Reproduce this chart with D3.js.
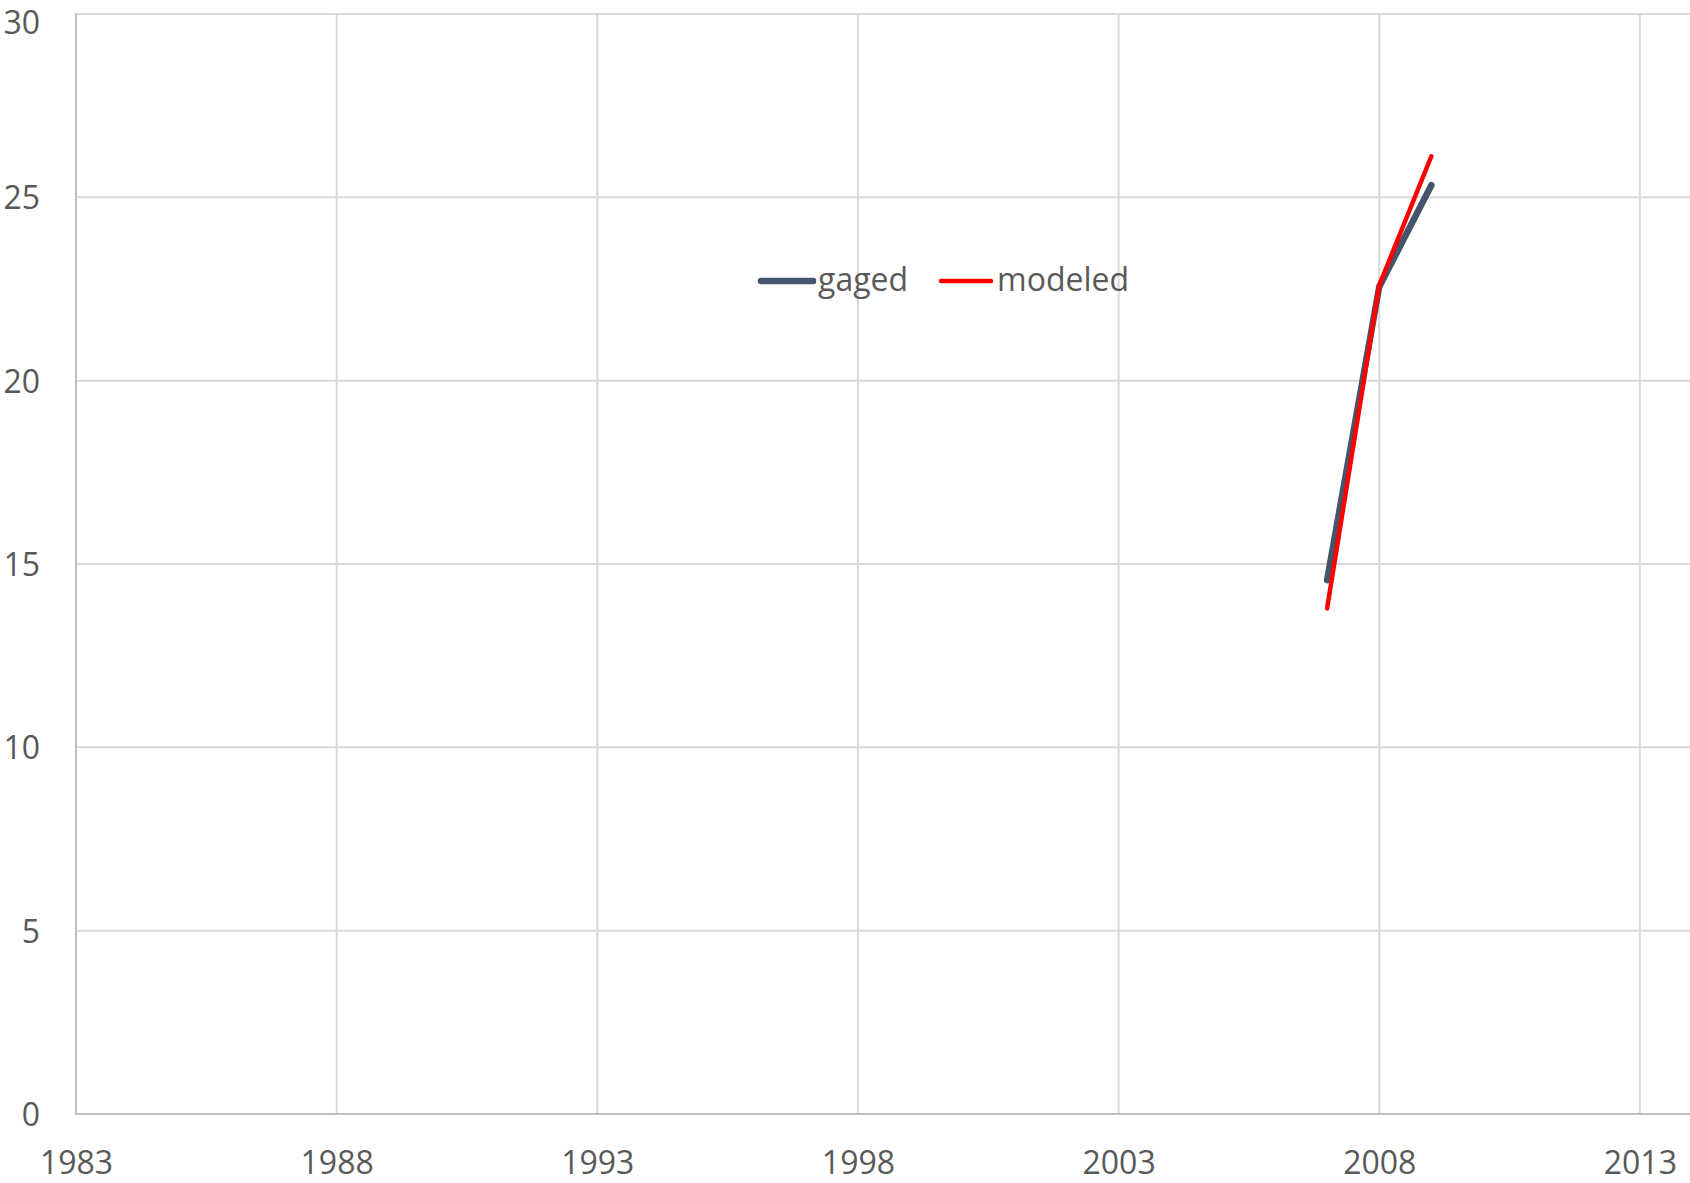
<!DOCTYPE html>
<html><head><meta charset="utf-8">
<script src="https://cdn.jsdelivr.net/npm/d3@7"></script>
<style>
html,body{margin:0;padding:0;background:#fff;}
svg{display:block;}
text{font-family:"Open Sans",sans-serif;}
</style></head>
<body>
<svg id="chart" width="1690" height="1183"></svg>
<script>
const years = [2007, 2008, 2009];
const gaged = [14.56, 22.56, 25.33];
const modeled = [13.79, 22.6, 26.12];
const xTicks = [1983, 1988, 1993, 1998, 2003, 2008, 2013];
const yTicks = [0, 5, 10, 15, 20, 25, 30];
const seriesNames = ["gaged", "modeled"];
const seriesColors = ["#44546a", "#ff0000"];

const svg = d3.select("#chart");
const pL = 76, pT = 14, pB = 1114, pR = 1692;
const x = d3.scaleLinear().domain([1983, 2014]).range([pL, pR]);
const y = d3.scaleLinear().domain([0, 30]).range([pB, pT]);

// horizontal grid
svg.append("g").selectAll("line").data(yTicks.filter(d => d > 0)).join("line")
  .attr("x1", pL).attr("x2", 1690)
  .attr("y1", d => y(d)).attr("y2", d => y(d))
  .attr("stroke", "#d9d9d9").attr("stroke-width", 2);
// vertical grid
svg.append("g").selectAll("line").data(xTicks.filter(d => d > 1983)).join("line")
  .attr("x1", d => x(d)).attr("x2", d => x(d))
  .attr("y1", pT).attr("y2", pB)
  .attr("stroke", "#d9d9d9").attr("stroke-width", 2);

// axes lines
svg.append("line").attr("x1", pL).attr("x2", pL).attr("y1", pT - 1).attr("y2", pB)
  .attr("stroke", "#bfbfbf").attr("stroke-width", 2);
svg.append("line").attr("x1", pL - 1).attr("x2", 1690).attr("y1", pB).attr("y2", pB)
  .attr("stroke", "#bfbfbf").attr("stroke-width", 2);

// tick labels
const yAxis = d3.axisLeft(y).tickValues(yTicks).tickSize(0).tickPadding(0).tickFormat(d3.format("d"));
const gy = svg.append("g").attr("transform", `translate(${pL - 36},0)`).call(yAxis);
gy.select(".domain").remove();
gy.selectAll("text").attr("fill", "#595959").style("font-size", "32px").style("font-family", "'Open Sans', sans-serif")
  .attr("dy", d => d === 30 ? "0.62em" : "0.36em");

const xAxis = d3.axisBottom(x).tickValues(xTicks).tickSize(0).tickPadding(0).tickFormat(d3.format("d"));
const gx = svg.append("g").attr("transform", `translate(0,${pB + 48})`).call(xAxis);
gx.select(".domain").remove();
gx.selectAll("text").attr("fill", "#595959").style("font-size", "32px").style("font-family", "'Open Sans', sans-serif").attr("dy", "0.36em");

// lines
const line = d3.line().x((d, i) => x(years[i])).y(d => y(d));
svg.append("path").datum(gaged).attr("d", line).attr("fill", "none")
  .attr("stroke", seriesColors[0]).attr("stroke-width", 6.5).attr("stroke-linecap", "round").attr("stroke-linejoin", "round");
svg.append("path").datum(modeled).attr("d", line).attr("fill", "none")
  .attr("stroke", seriesColors[1]).attr("stroke-width", 4.5).attr("stroke-linecap", "round").attr("stroke-linejoin", "round");

// legend
const legendItems = [
  {sx1: 761, sx2: 813, tx: 818, w: 6.5},
  {sx1: 941, sx2: 991, tx: 997, w: 4.5}
];
const lg = svg.append("g");
legendItems.forEach((it, i) => {
  lg.append("line").attr("x1", it.sx1).attr("x2", it.sx2).attr("y1", 281).attr("y2", 281)
    .attr("stroke", seriesColors[i]).attr("stroke-width", it.w).attr("stroke-linecap", "round");
  lg.append("text").attr("x", it.tx).attr("y", 291).attr("fill", "#595959")
    .style("font-size", "32px").text(seriesNames[i]);
});
</script>
</body></html>
